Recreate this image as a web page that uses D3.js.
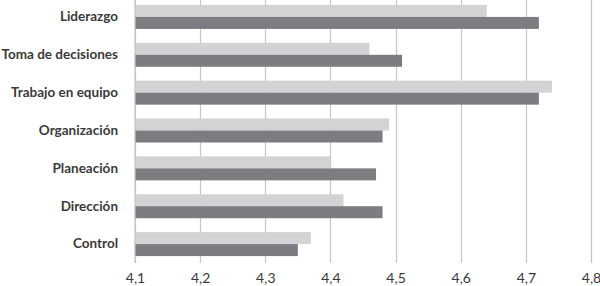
<!DOCTYPE html>
<html><head><meta charset="utf-8">
<script src="https://cdn.jsdelivr.net/npm/d3@7"></script>
<style>
html,body{margin:0;padding:0;background:#fff;}
svg{display:block;}
text{font-family:Lato,"Open Sans",sans-serif;}
</style></head>
<body>
<svg id="chart" width="600" height="286"></svg>
<script>
const categories = ["Liderazgo","Toma de decisiones","Trabajo en equipo","Organización","Planeación","Dirección","Control"];
const seriesLight = [4.64, 4.46, 4.74, 4.49, 4.40, 4.42, 4.37];
const seriesDark  = [4.72, 4.51, 4.72, 4.48, 4.47, 4.48, 4.35];
const tickValues = [4.1, 4.2, 4.3, 4.4, 4.5, 4.6, 4.7, 4.8];

const svg = d3.select("#chart");
const x = d3.scaleLinear().domain([4.1, 4.8]).range([135, 591]);
const y = d3.scaleBand().domain(categories).range([-2, 263]).paddingInner(0.366).paddingOuter(0.183);
const bh = y.bandwidth() / 2;

// gridlines
svg.append("g").selectAll("line").data(tickValues).join("line")
  .attr("x1", d => Math.round(x(d)) + 0.5).attr("x2", d => Math.round(x(d)) + 0.5)
  .attr("y1", 0).attr("y2", 263)
  .attr("stroke", "#c6c6c6").attr("stroke-width", 1.2);

// bars
svg.append("g").selectAll("rect").data(categories).join("rect")
  .attr("x", x(4.1)).attr("y", d => y(d))
  .attr("width", (d, i) => x(seriesLight[i]) - x(4.1))
  .attr("height", bh).attr("fill", "#d3d3d5");
svg.append("g").selectAll("rect").data(categories).join("rect")
  .attr("x", x(4.1)).attr("y", d => y(d) + bh)
  .attr("width", (d, i) => x(seriesDark[i]) - x(4.1))
  .attr("height", bh).attr("fill", "#7c7d81");

// axis line at baseline
svg.append("line").attr("x1", x(4.1)).attr("x2", x(4.1)).attr("y1", 0).attr("y2", 263)
  .attr("stroke", "#c6c6c6").attr("stroke-width", 1.2);

// category labels
const yAxis = d3.axisLeft(y).tickSize(0).tickPadding(0);
const gy = svg.append("g").attr("transform", "translate(118,0)").call(yAxis);
gy.select(".domain").remove();
gy.selectAll("text").attr("font-size", 13.5).attr("font-weight", 700)
  .attr("fill", "#3a3a3a").style("font-family", 'Lato,"Open Sans",sans-serif');

// x tick labels
const fmt = d => d3.format(".1f")(d).replace(".", ",");
const xAxis = d3.axisBottom(x).tickValues(tickValues).tickFormat(fmt).tickSize(0).tickPadding(0);
const gx = svg.append("g").attr("transform", "translate(0,273)").call(xAxis);
gx.select(".domain").remove();
gx.selectAll("text").attr("font-size", 14).attr("fill", "#3a3a3a")
  .style("font-family", 'Lato,"Open Sans",sans-serif');
</script>
</body></html>
